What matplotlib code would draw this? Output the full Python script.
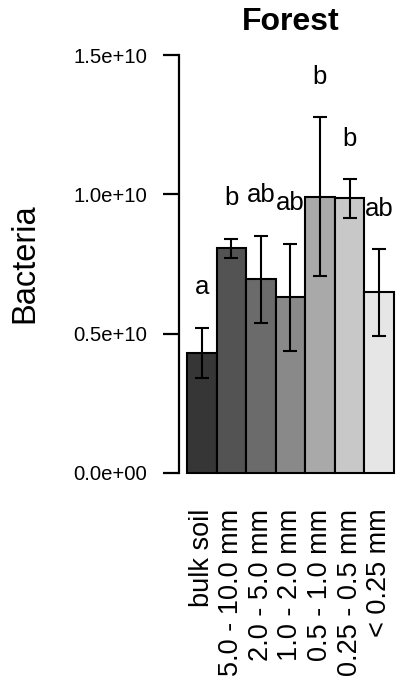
import matplotlib
matplotlib.use("Agg")
import matplotlib.pyplot as plt
import numpy as np

plt.rcParams["font.family"] = ["Liberation Sans", "DejaVu Sans"]

# aggregate-size classes, mean bacterial abundance and error
classes = ["bulk soil", "5.0 - 10.0 mm", "2.0 - 5.0 mm", "1.0 - 2.0 mm",
           "0.5 - 1.0 mm", "0.25 - 0.5 mm", "< 0.25 mm"]
means = [0.431e10, 0.806e10, 0.695e10, 0.630e10, 0.992e10, 0.986e10, 0.648e10]
errs = [0.090e10, 0.035e10, 0.157e10, 0.193e10, 0.285e10, 0.070e10, 0.156e10]
letters = ["a", "b", "ab", "ab", "b", "b", "ab"]
fills = ["#363636", "#535353", "#6b6b6b", "#898989", "#a9a9a9", "#c8c8c8", "#e6e6e6"]
yticks = [0, 0.5e10, 1.0e10, 1.5e10]
yticklabels = ["0.0e+00", "0.5e+10", "1.0e+10", "1.5e+10"]

W, H = 400, 685
fig = plt.figure(figsize=(W / 100, H / 100), dpi=100)
ax = fig.add_axes([178.7 / W, 1 - 489.2 / H, 223.5 / W, 450.4 / H])

x = np.arange(len(classes)) + 0.5
ax.bar(x, means, width=1.0, color=fills, edgecolor="black", linewidth=1.5, zorder=2)
ax.errorbar(x, means, yerr=errs, fmt="none", ecolor="black", elinewidth=1.5,
            capsize=5, capthick=1.5, zorder=3)
for xi, m, e, lab in zip(x, means, errs, letters):
    ax.text(xi, m + e + 0.145e10, lab, ha="center", va="center", fontsize=18.5)

ax.set_xlim(-0.28, 7.28)
ax.set_ylim(-0.06e10, 1.56e10)
for s in ("top", "right", "bottom"):
    ax.spines[s].set_visible(False)
ax.spines["left"].set_bounds(0, 1.5e10)
ax.spines["left"].set_linewidth(1.6)

ax.set_yticks(yticks)
ax.set_yticklabels(yticklabels, fontsize=14.6)
ax.tick_params(axis="y", length=11.5, width=1.6, pad=11)
ax.set_xticks(x)
ax.set_xticklabels(classes, rotation=90, fontsize=19.5)
ax.tick_params(axis="x", length=0, pad=14)

fig.text(25 / W, 1 - 263 / H, "Bacteria", rotation=90, ha="center", va="center",
         fontsize=23.5)
fig.text(291 / W, 1 - 22 / H, "Forest", ha="center", va="center",
         fontsize=23, fontweight="bold")

fig.savefig("out.png", dpi=100)
